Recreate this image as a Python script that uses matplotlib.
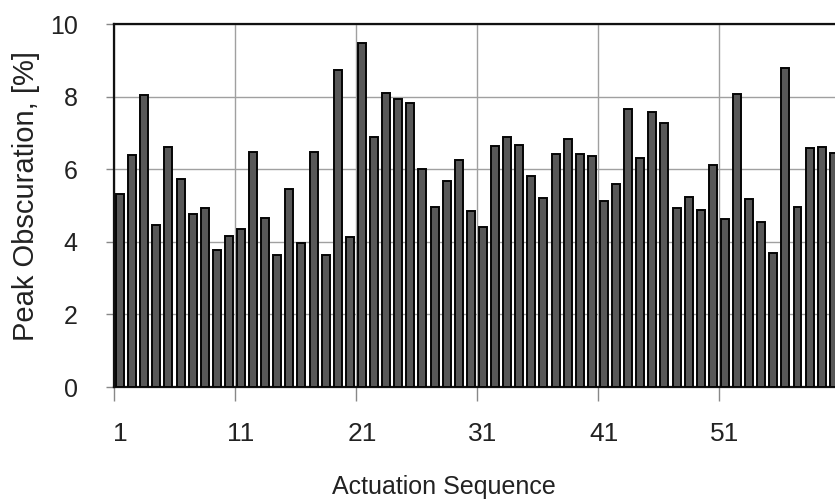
import matplotlib
matplotlib.use("Agg")
import matplotlib.pyplot as plt

# Peak obscuration per actuation, sequence numbers 1..60
sequence = list(range(1, 61))
peak_obscuration = [
    5.32, 6.39, 8.04, 4.48, 6.61, 5.74, 4.77, 4.93, 3.78, 4.17,
    4.36, 6.47, 4.65, 3.65, 5.45, 3.98, 6.47, 3.65, 8.75, 4.14,
    9.49, 6.88, 8.11, 7.93, 7.83, 6.00, 4.97, 5.67, 6.25, 4.85,
    4.42, 6.65, 6.90, 6.66, 5.83, 5.22, 6.42, 6.84, 6.42, 6.36,
    5.12, 5.59, 7.66, 6.31, 7.59, 7.27, 4.94, 5.24, 4.88, 6.11,
    4.63, 8.08, 5.17, 4.55, 3.70, 8.80, 4.96, 6.59, 6.61, 6.44,
]
x_labels = ["1", "11", "21", "31", "41", "51"]
y_ticks = [0, 2, 4, 6, 8, 10]

plt.rcParams["font.family"] = ["Liberation Sans", "DejaVu Sans"]

fig = plt.figure(figsize=(8.35, 5.04), dpi=100)
ax = fig.add_axes([0.1365, 0.232, 0.8635, 0.720])

ax.bar(sequence, peak_obscuration, width=0.66, color="#585858",
       edgecolor="#050505", linewidth=1.4, zorder=3)

ax.set_xlim(0.5, 60.1)
ax.set_ylim(0, 10)

# gridlines sit between categories, labels on every tenth actuation
ax.set_xticks([0.5 + 10 * k for k in range(6)])
ax.set_xticklabels([])
ax.set_xticks([int(s) for s in x_labels], minor=True)
ax.set_xticklabels(x_labels, minor=True, color="#222222")
ax.tick_params(axis="x", which="major", length=10, width=1, color="#888888")
ax.tick_params(axis="x", which="minor", length=0, pad=25, labelsize=19)

ax.set_yticks(y_ticks)
ax.set_yticklabels([str(v) for v in y_ticks], color="#222222")
ax.tick_params(axis="y", length=6, width=1, color="#888888", pad=20, labelsize=18)

ax.grid(axis="both", which="major", color="#a0a0a0", linewidth=1, zorder=0)

for side in ["left", "bottom", "top"]:
    ax.spines[side].set_color("#111111")
    ax.spines[side].set_linewidth(1.6)
ax.spines["right"].set_visible(False)

ax.set_xlabel("Actuation Sequence", fontsize=18, color="#222222")
ax.xaxis.set_label_coords(0.458, -0.242)
ax.set_ylabel("Peak Obscuration, [%]", fontsize=21, color="#222222")
ax.yaxis.set_label_coords(-0.1026, 0.527)

fig.savefig("out.png", dpi=100)
